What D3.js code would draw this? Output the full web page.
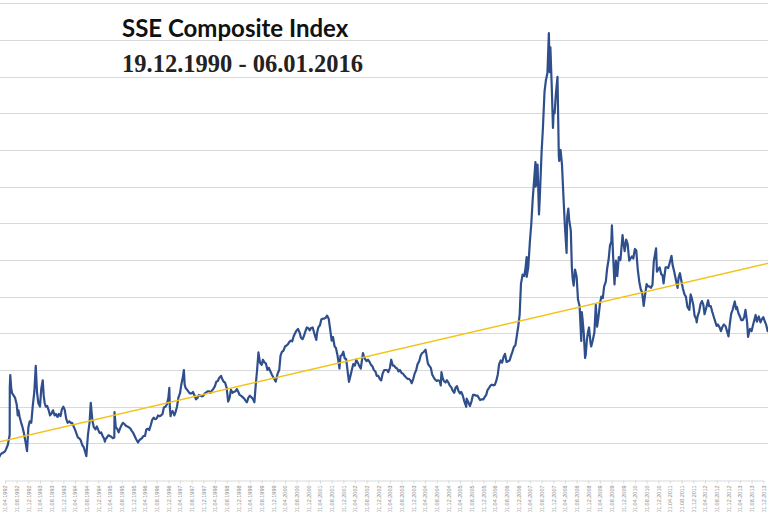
<!DOCTYPE html>
<html>
<head>
<meta charset="utf-8">
<script src="https://cdn.jsdelivr.net/npm/d3@7"></script>
<style>
  body { margin: 0; background: #fff; }
  svg { display: block; overflow: hidden; }
</style>
</head>
<body>
<script>
// titres
const titleText = 'SSE Composite Index'
const subtitleText = '19.12.1990 - 06.01.2016'

// valeurs de clôture (date, indice)
const sse1991 = [
  ['1990-12-19', 100], ['1990-12-31', 128], ['1991-01-15', 131], ['1991-02-01', 132], ['1991-02-15', 133],
  ['1991-03-01', 128], ['1991-03-15', 122], ['1991-04-01', 118], ['1991-04-15', 112], ['1991-05-01', 108],
  ['1991-05-17', 105], ['1991-06-01', 108], ['1991-06-15', 115], ['1991-07-01', 125], ['1991-07-15', 138],
  ['1991-08-01', 152], ['1991-08-15', 175], ['1991-09-01', 180], ['1991-09-15', 185], ['1991-10-01', 195],
  ['1991-10-15', 210], ['1991-11-01', 235], ['1991-11-15', 255], ['1991-12-01', 270], ['1991-12-15', 280],
  ['1991-12-31', 292]
]
const sse1992 = [
  ['1992-01-15', 300], ['1992-02-01', 315], ['1992-02-15', 350], ['1992-03-01', 365], ['1992-03-15', 375],
  ['1992-04-01', 390], ['1992-04-15', 430], ['1992-05-01', 480], ['1992-05-20', 617], ['1992-05-21', 1266],
  ['1992-05-26', 1429], ['1992-06-05', 1250], ['1992-06-15', 1180], ['1992-07-01', 1150], ['1992-07-15', 1120],
  ['1992-08-01', 1030], ['1992-08-12', 880], ['1992-08-20', 950], ['1992-09-01', 860], ['1992-09-15', 790],
  ['1992-10-01', 720], ['1992-10-15', 640], ['1992-11-01', 520], ['1992-11-17', 393], ['1992-12-01', 720],
  ['1992-12-15', 800], ['1992-12-31', 780]
]
const sse1993 = [
  ['1993-01-04', 830], ['1993-01-15', 1000], ['1993-02-01', 1200], ['1993-02-16', 1558], ['1993-03-01', 1200],
  ['1993-03-15', 1050], ['1993-04-01', 1000], ['1993-04-15', 1250], ['1993-04-30', 1360], ['1993-05-10', 1150],
  ['1993-05-20', 1050], ['1993-06-01', 1000], ['1993-06-15', 1010], ['1993-07-01', 950], ['1993-07-15', 880],
  ['1993-08-01', 910], ['1993-08-15', 950], ['1993-09-01', 880], ['1993-09-15', 900], ['1993-10-01', 860],
  ['1993-10-15', 900], ['1993-11-01', 870], ['1993-11-15', 960], ['1993-12-01', 1000], ['1993-12-15', 960],
  ['1993-12-31', 833]
]
const sse1994 = [
  ['1994-01-15', 780], ['1994-02-01', 800], ['1994-02-15', 780], ['1994-03-01', 780], ['1994-03-15', 740],
  ['1994-04-01', 690], ['1994-04-15', 640], ['1994-05-01', 580], ['1994-05-15', 570], ['1994-06-01', 540],
  ['1994-06-15', 480], ['1994-07-01', 450], ['1994-07-15', 390], ['1994-07-29', 326], ['1994-08-05', 450],
  ['1994-08-15', 620], ['1994-09-01', 790], ['1994-09-13', 1052], ['1994-10-01', 800], ['1994-10-15', 720],
  ['1994-11-01', 690], ['1994-11-15', 730], ['1994-12-01', 680], ['1994-12-15', 640], ['1994-12-31', 648]
]
const sse1995 = [
  ['1995-01-15', 600], ['1995-02-01', 560], ['1995-02-07', 524], ['1995-02-15', 560], ['1995-03-01', 580],
  ['1995-03-15', 610], ['1995-04-01', 600], ['1995-04-15', 590], ['1995-05-01', 570], ['1995-05-17', 580],
  ['1995-05-19', 926], ['1995-06-01', 720], ['1995-06-15', 700], ['1995-07-01', 650], ['1995-07-15', 700],
  ['1995-08-01', 750], ['1995-08-15', 780], ['1995-09-01', 760], ['1995-09-15', 740], ['1995-10-01', 730],
  ['1995-10-15', 720], ['1995-11-01', 700], ['1995-11-15', 670], ['1995-12-01', 640], ['1995-12-15', 600],
  ['1995-12-31', 555]
]
const sse1996 = [
  ['1996-01-19', 512], ['1996-02-01', 540], ['1996-02-15', 560], ['1996-03-01', 570], ['1996-03-15', 600],
  ['1996-04-01', 600], ['1996-04-15', 690], ['1996-05-01', 700], ['1996-05-15', 680], ['1996-06-01', 750],
  ['1996-06-15', 820], ['1996-07-01', 850], ['1996-07-15', 830], ['1996-08-01', 840], ['1996-08-15', 880],
  ['1996-09-01', 870], ['1996-09-15', 880], ['1996-10-01', 900], ['1996-10-15', 990], ['1996-11-01', 1000],
  ['1996-11-15', 1030], ['1996-12-01', 1120], ['1996-12-11', 1258], ['1996-12-16', 1000], ['1996-12-24', 870],
  ['1996-12-31', 917]
]
const sse1997 = [
  ['1997-01-15', 940], ['1997-02-01', 880], ['1997-02-15', 930], ['1997-03-01', 1000], ['1997-03-15', 1120],
  ['1997-04-01', 1180], ['1997-04-15', 1300], ['1997-05-01', 1400], ['1997-05-12', 1500], ['1997-05-20', 1300],
  ['1997-06-01', 1250], ['1997-06-15', 1230], ['1997-07-01', 1200], ['1997-07-15', 1180], ['1997-08-01', 1180],
  ['1997-08-15', 1200], ['1997-09-01', 1150], ['1997-09-15', 1100], ['1997-10-01', 1120], ['1997-10-15', 1160],
  ['1997-11-01', 1150], ['1997-11-15', 1140], ['1997-12-01', 1150], ['1997-12-15', 1180], ['1997-12-31', 1194]
]
const sse1998 = [
  ['1998-01-15', 1210], ['1998-02-01', 1210], ['1998-02-15', 1190], ['1998-03-01', 1220], ['1998-03-15', 1240],
  ['1998-04-01', 1280], ['1998-04-15', 1340], ['1998-05-01', 1350], ['1998-05-15', 1390], ['1998-06-04', 1420],
  ['1998-06-15', 1380], ['1998-07-01', 1340], ['1998-07-15', 1330], ['1998-08-01', 1260], ['1998-08-17', 1070],
  ['1998-09-01', 1120], ['1998-09-15', 1230], ['1998-10-01', 1190], ['1998-10-15', 1200], ['1998-11-01', 1210],
  ['1998-11-15', 1240], ['1998-12-01', 1200], ['1998-12-15', 1160], ['1998-12-31', 1147]
]
const sse1999 = [
  ['1999-01-15', 1130], ['1999-02-01', 1110], ['1999-02-15', 1080], ['1999-03-01', 1060], ['1999-03-15', 1120],
  ['1999-04-01', 1150], ['1999-04-15', 1130], ['1999-05-01', 1110], ['1999-05-18', 1060], ['1999-06-01', 1300],
  ['1999-06-15', 1500], ['1999-06-29', 1739], ['1999-07-15', 1600], ['1999-08-01', 1570], ['1999-08-15', 1640],
  ['1999-09-01', 1600], ['1999-09-15', 1590], ['1999-10-01', 1500], ['1999-10-15', 1530], ['1999-11-01', 1480],
  ['1999-11-15', 1440], ['1999-12-01', 1400], ['1999-12-27', 1341], ['1999-12-31', 1367]
]
const sse2000 = [
  ['2000-01-15', 1450], ['2000-02-01', 1500], ['2000-02-15', 1700], ['2000-03-01', 1750], ['2000-03-15', 1760],
  ['2000-04-01', 1820], ['2000-04-15', 1830], ['2000-05-01', 1850], ['2000-05-15', 1880], ['2000-06-01', 1900],
  ['2000-06-15', 1890], ['2000-07-01', 1960], ['2000-07-15', 2000], ['2000-08-01', 2040], ['2000-08-15', 2060],
  ['2000-09-01', 2010], ['2000-09-15', 1940], ['2000-10-01', 1920], ['2000-10-15', 1960], ['2000-11-01', 2030],
  ['2000-11-15', 2080], ['2000-12-01', 2070], ['2000-12-15', 2040], ['2000-12-29', 2073]
]
const sse2001 = [
  ['2001-01-15', 2080], ['2001-02-01', 2000], ['2001-02-22', 1910], ['2001-03-01', 2000], ['2001-03-15', 2080],
  ['2001-04-01', 2110], ['2001-04-15', 2190], ['2001-05-01', 2200], ['2001-05-15', 2200], ['2001-06-01', 2215],
  ['2001-06-14', 2242], ['2001-07-01', 2200], ['2001-07-15', 2070], ['2001-08-01', 1900], ['2001-08-15', 1950],
  ['2001-09-01', 1820], ['2001-09-15', 1800], ['2001-10-01', 1700], ['2001-10-22', 1520], ['2001-11-01', 1690],
  ['2001-11-15', 1700], ['2001-12-01', 1750], ['2001-12-15', 1660], ['2001-12-31', 1646]
]
const sse2002 = [
  ['2002-01-15', 1480], ['2002-01-29', 1339], ['2002-02-15', 1430], ['2002-03-01', 1510], ['2002-03-15', 1580],
  ['2002-04-01', 1560], ['2002-04-15', 1640], ['2002-05-01', 1600], ['2002-05-15', 1560], ['2002-06-01', 1520],
  ['2002-06-24', 1730], ['2002-07-01', 1700], ['2002-07-15', 1650], ['2002-08-01', 1620], ['2002-08-15', 1640],
  ['2002-09-01', 1610], ['2002-09-15', 1570], ['2002-10-01', 1550], ['2002-10-15', 1500], ['2002-11-01', 1480],
  ['2002-11-15', 1420], ['2002-12-01', 1420], ['2002-12-15', 1380], ['2002-12-31', 1358]
]
const sse2003 = [
  ['2003-01-15', 1450], ['2003-02-01', 1500], ['2003-02-15', 1500], ['2003-03-01', 1500], ['2003-03-15', 1470],
  ['2003-04-01', 1530], ['2003-04-15', 1640], ['2003-05-01', 1560], ['2003-05-15', 1560], ['2003-06-01', 1530],
  ['2003-06-15', 1520], ['2003-07-01', 1480], ['2003-07-15', 1500], ['2003-08-01', 1460], ['2003-08-15', 1450],
  ['2003-09-01', 1420], ['2003-09-15', 1400], ['2003-10-01', 1380], ['2003-10-15', 1380], ['2003-11-01', 1360],
  ['2003-11-15', 1320], ['2003-12-01', 1380], ['2003-12-15', 1450], ['2003-12-31', 1497]
]
const sse2004 = [
  ['2004-01-15', 1580], ['2004-02-01', 1620], ['2004-02-15', 1690], ['2004-03-01', 1730], ['2004-03-15', 1740],
  ['2004-04-07', 1777], ['2004-04-15', 1720], ['2004-05-01', 1590], ['2004-05-15', 1560], ['2004-06-01', 1530],
  ['2004-06-15', 1440], ['2004-07-01', 1400], ['2004-07-15', 1370], ['2004-08-01', 1350], ['2004-08-15', 1360],
  ['2004-09-01', 1350], ['2004-09-13', 1290], ['2004-09-20', 1470], ['2004-10-01', 1400], ['2004-10-15', 1350],
  ['2004-11-01', 1330], ['2004-11-15', 1360], ['2004-12-01', 1330], ['2004-12-15', 1290], ['2004-12-31', 1266]
]
const sse2005 = [
  ['2005-01-15', 1220], ['2005-02-01', 1190], ['2005-02-15', 1260], ['2005-03-01', 1280], ['2005-03-15', 1220],
  ['2005-04-01', 1180], ['2005-04-15', 1200], ['2005-05-01', 1150], ['2005-05-15', 1080], ['2005-06-06', 998],
  ['2005-06-10', 1110], ['2005-07-01', 1050], ['2005-07-15', 1010], ['2005-08-01', 1080], ['2005-08-15', 1160],
  ['2005-09-01', 1160], ['2005-09-15', 1150], ['2005-10-01', 1150], ['2005-10-28', 1090], ['2005-11-15', 1100],
  ['2005-12-01', 1100], ['2005-12-15', 1130], ['2005-12-31', 1161]
]
const sse2006 = [
  ['2006-01-15', 1230], ['2006-02-01', 1260], ['2006-02-15', 1290], ['2006-03-01', 1300], ['2006-03-15', 1290],
  ['2006-04-01', 1300], ['2006-04-15', 1350], ['2006-05-01', 1440], ['2006-05-15', 1580], ['2006-06-01', 1630],
  ['2006-06-15', 1600], ['2006-07-01', 1680], ['2006-07-15', 1720], ['2006-08-01', 1610], ['2006-08-15', 1620],
  ['2006-09-01', 1630], ['2006-09-15', 1690], ['2006-10-01', 1750], ['2006-10-15', 1810], ['2006-11-01', 1840],
  ['2006-11-15', 1960], ['2006-12-01', 2100], ['2006-12-15', 2250], ['2006-12-29', 2675]
]
const sse2007 = [
  ['2007-01-15', 2800], ['2007-02-01', 2780], ['2007-02-15', 2900], ['2007-02-26', 3040], ['2007-02-27', 2771],
  ['2007-03-15', 2900], ['2007-04-01', 3250], ['2007-04-15', 3480], ['2007-05-01', 3840], ['2007-05-29', 4335],
  ['2007-05-31', 4000], ['2007-06-15', 4100], ['2007-06-20', 4300], ['2007-07-05', 3620], ['2007-07-15', 3900],
  ['2007-08-01', 4470], ['2007-08-15', 4800], ['2007-09-01', 5300], ['2007-09-15', 5450], ['2007-10-01', 5550],
  ['2007-10-16', 6092], ['2007-10-25', 5560], ['2007-11-01', 5900], ['2007-11-15', 5370], ['2007-11-28', 4800],
  ['2007-12-05', 5030], ['2007-12-15', 5000], ['2007-12-28', 5262]
]
const sse2008 = [
  ['2008-01-14', 5497], ['2008-01-28', 4420], ['2008-02-01', 4350], ['2008-02-15', 4500], ['2008-03-01', 4300],
  ['2008-03-15', 3900], ['2008-03-31', 3470], ['2008-04-18', 3095], ['2008-04-24', 3580], ['2008-05-06', 3700],
  ['2008-05-15', 3550], ['2008-06-01', 3400], ['2008-06-12', 2900], ['2008-06-20', 2750], ['2008-07-01', 2650],
  ['2008-07-15', 2870], ['2008-08-01', 2770], ['2008-08-15', 2460], ['2008-09-01', 2370], ['2008-09-18', 1895],
  ['2008-09-24', 2290], ['2008-10-01', 2200], ['2008-10-15', 1990], ['2008-10-28', 1664], ['2008-11-04', 1706],
  ['2008-11-15', 1900], ['2008-11-25', 2000], ['2008-12-08', 2080], ['2008-12-23', 1880], ['2008-12-31', 1821]
]
const sse2009 = [
  ['2009-01-15', 1900], ['2009-02-02', 2010], ['2009-02-17', 2390], ['2009-03-02', 2090], ['2009-03-15', 2200],
  ['2009-04-01', 2400], ['2009-04-15', 2500], ['2009-05-01', 2480], ['2009-05-15', 2640], ['2009-06-01', 2700],
  ['2009-06-15', 2880], ['2009-07-01', 3010], ['2009-07-15', 3200], ['2009-07-29', 3250], ['2009-08-04', 3471],
  ['2009-08-15', 3100], ['2009-08-31', 2667], ['2009-09-15', 2990], ['2009-09-29', 2780], ['2009-10-15', 3040],
  ['2009-11-01', 3000], ['2009-11-23', 3338], ['2009-12-01', 3250], ['2009-12-15', 3120], ['2009-12-31', 3277]
]
const sse2010 = [
  ['2010-01-15', 3220], ['2010-02-01', 2990], ['2010-02-15', 3020], ['2010-03-01', 3050], ['2010-03-15', 3020],
  ['2010-04-01', 3150], ['2010-04-15', 3130], ['2010-05-01', 2870], ['2010-05-17', 2700], ['2010-06-01', 2600],
  ['2010-06-15', 2560], ['2010-07-02', 2373], ['2010-07-15', 2510], ['2010-08-01', 2670], ['2010-08-15', 2640],
  ['2010-09-01', 2640], ['2010-09-15', 2620], ['2010-10-01', 2660], ['2010-10-15', 2980], ['2010-11-08', 3160],
  ['2010-11-17', 2840], ['2010-12-01', 2870], ['2010-12-15', 2900], ['2010-12-31', 2808]
]
const sse2011 = [
  ['2011-01-15', 2790], ['2011-01-25', 2680], ['2011-02-15', 2900], ['2011-03-01', 2900], ['2011-03-15', 2890],
  ['2011-04-01', 2970], ['2011-04-18', 3057], ['2011-05-01', 2920], ['2011-05-15', 2850], ['2011-06-01', 2740],
  ['2011-06-20', 2620], ['2011-07-01', 2760], ['2011-07-15', 2820], ['2011-08-01', 2700], ['2011-08-15', 2610],
  ['2011-09-01', 2530], ['2011-09-15', 2500], ['2011-10-01', 2360], ['2011-10-21', 2320], ['2011-11-04', 2530],
  ['2011-11-15', 2480], ['2011-12-01', 2390], ['2011-12-15', 2240], ['2011-12-31', 2199]
]
const sse2012 = [
  ['2012-01-06', 2150], ['2012-01-15', 2230], ['2012-02-01', 2300], ['2012-02-15', 2400], ['2012-03-01', 2440],
  ['2012-03-15', 2390], ['2012-03-28', 2260], ['2012-04-15', 2350], ['2012-05-04', 2450], ['2012-05-15', 2370],
  ['2012-06-01', 2370], ['2012-06-15', 2300], ['2012-07-01', 2230], ['2012-07-15', 2170], ['2012-08-01', 2100],
  ['2012-08-15', 2120], ['2012-09-01', 2080], ['2012-09-15', 2030], ['2012-10-01', 2090], ['2012-10-15', 2120],
  ['2012-11-01', 2100], ['2012-11-15', 2040], ['2012-12-03', 1959], ['2012-12-15', 2110], ['2012-12-31', 2269]
]
const sse2013 = [
  ['2013-01-15', 2320], ['2013-02-06', 2434], ['2013-02-20', 2330], ['2013-03-01', 2360], ['2013-03-15', 2280],
  ['2013-04-01', 2230], ['2013-04-15', 2180], ['2013-05-01', 2180], ['2013-05-15', 2220], ['2013-05-29', 2320],
  ['2013-06-15', 2150], ['2013-06-25', 1950], ['2013-07-05', 2010], ['2013-07-15', 2060], ['2013-08-01', 2030],
  ['2013-08-15', 2110], ['2013-09-12', 2250], ['2013-09-25', 2160], ['2013-10-15', 2230], ['2013-11-01', 2150],
  ['2013-11-15', 2190], ['2013-12-01', 2220], ['2013-12-15', 2170], ['2013-12-31', 2116]
]
const sse2014 = [
  ['2014-01-15', 2030], ['2014-01-31', 2030], ['2014-02-15', 2120], ['2014-03-01', 2050], ['2014-03-11', 1990],
  ['2014-04-01', 2060], ['2014-04-15', 2110], ['2014-05-01', 2030], ['2014-05-15', 2030], ['2014-06-01', 2040],
  ['2014-06-15', 2070], ['2014-07-01', 2050], ['2014-07-15', 2060], ['2014-08-01', 2220], ['2014-08-15', 2230],
  ['2014-09-01', 2230], ['2014-09-15', 2340], ['2014-10-01', 2360], ['2014-10-15', 2380], ['2014-11-01', 2420],
  ['2014-11-15', 2480], ['2014-12-01', 2680], ['2014-12-15', 2950], ['2014-12-31', 3235]
]
const sse2015 = [
  ['2015-01-15', 3340], ['2015-01-30', 3210], ['2015-02-15', 3250], ['2015-03-01', 3310], ['2015-03-15', 3450],
  ['2015-04-01', 3810], ['2015-04-15', 4130], ['2015-04-30', 4440], ['2015-05-15', 4310], ['2015-06-01', 4830],
  ['2015-06-12', 5166], ['2015-06-26', 4190], ['2015-07-08', 3507], ['2015-07-24', 4070], ['2015-08-01', 3660],
  ['2015-08-18', 3750], ['2015-08-26', 2927], ['2015-09-15', 3010], ['2015-10-01', 3050], ['2015-10-15', 3340],
  ['2015-11-01', 3380], ['2015-11-15', 3580], ['2015-12-01', 3450], ['2015-12-22', 3650], ['2015-12-31', 3539],
  ['2016-01-04', 3297], ['2016-01-06', 3361]
]

// droite de tendance linéaire (début / fin de la série)
const trendDates = ['1990-12-19', '2016-01-06']
const trendValues = [396, 3173]

// grille de l'axe y
const yMax = 6500
const yStep = 500

const parseDate = d3.timeParse('%Y-%m-%d')
const fmtDate = d3.timeFormat('%d.%m.%Y')

const sseData = [].concat(sse1991, sse1992, sse1993, sse1994, sse1995, sse1996, sse1997, sse1998,
  sse1999, sse2000, sse2001, sse2002, sse2003, sse2004, sse2005, sse2006, sse2007, sse2008,
  sse2009, sse2010, sse2011, sse2012, sse2013, sse2014, sse2015)
  .map(d => ({ date: parseDate(d[0]), value: d[1] }))

const width = 768, height = 512

let svg = d3.select('body').append('svg')
  .attr('width', width)
  .attr('height', height)

// échelles : le graphique d'origine est recadré, la série déborde à gauche et à droite
let x = d3.scaleTime()
  .domain([new Date(1992, 3, 1), new Date(2013, 11, 1)])
  .range([5, 763.3])
let y = d3.scaleLinear()
  .domain([0, yMax])
  .range([480, 3.3])

// lignes de grille
svg.append('g')
  .selectAll('line')
  .data(d3.range(yStep, yMax + 1, yStep))
  .join('line')
  .attr('x1', 0)
  .attr('x2', width)
  .attr('y1', d => Math.round(y(d)) + 0.5)
  .attr('y2', d => Math.round(y(d)) + 0.5)
  .attr('stroke', '#d9d9d9')
  .attr('stroke-width', 1)

// axe x : une étiquette tous les 4 mois (avril, août, décembre), seulement celles visibles
let tickDates = d3.timeMonth.range(x.invert(2), x.invert(width - 2))
  .filter(d => d.getMonth() % 4 === 3)
let xAxis = svg.append('g')
  .attr('transform', 'translate(0,480.5)')
  .call(d3.axisBottom(x).tickValues(tickDates).tickFormat(fmtDate).tickSize(3).tickSizeOuter(0))
xAxis.select('.domain').attr('stroke', '#d9d9d9')
xAxis.selectAll('.tick line').attr('stroke', '#d9d9d9')
xAxis.selectAll('text')
  .attr('transform', 'rotate(-90)')
  .attr('x', -5)
  .attr('y', 0)
  .attr('dy', '0.35em')
  .style('text-anchor', 'end')
  .style('font-family', 'Liberation Sans, Arial, sans-serif')
  .style('font-size', '5.5px')
  .attr('fill', '#8c8c8c')

// courbe de l'indice
let line = d3.line()
  .x(d => x(d.date))
  .y(d => y(d.value))
svg.append('path')
  .datum(sseData)
  .attr('fill', 'none')
  .attr('stroke', '#2f4f8c')
  .attr('stroke-width', 2.2)
  .attr('stroke-linejoin', 'round')
  .attr('d', line)

// tendance
let trend = trendDates.map((d, i) => ({ date: parseDate(d), value: trendValues[i] }))
svg.append('path')
  .datum(trend)
  .attr('fill', 'none')
  .attr('stroke', '#f2c318')
  .attr('stroke-width', 1.5)
  .attr('d', line)

// titre
svg.append('text')
  .attr('x', 122)
  .attr('y', 37)
  .style('font-family', 'Lato, Calibri, sans-serif')
  .style('font-weight', 'bold')
  .style('font-size', '24px')
  .attr('fill', '#111')
  .text(titleText)
svg.append('text')
  .attr('x', 122)
  .attr('y', 72)
  .style('font-family', 'Liberation Serif, serif')
  .style('font-weight', 'bold')
  .style('font-size', '24.5px')
  .attr('fill', '#222')
  .text(subtitleText)
</script>
</body>
</html>
